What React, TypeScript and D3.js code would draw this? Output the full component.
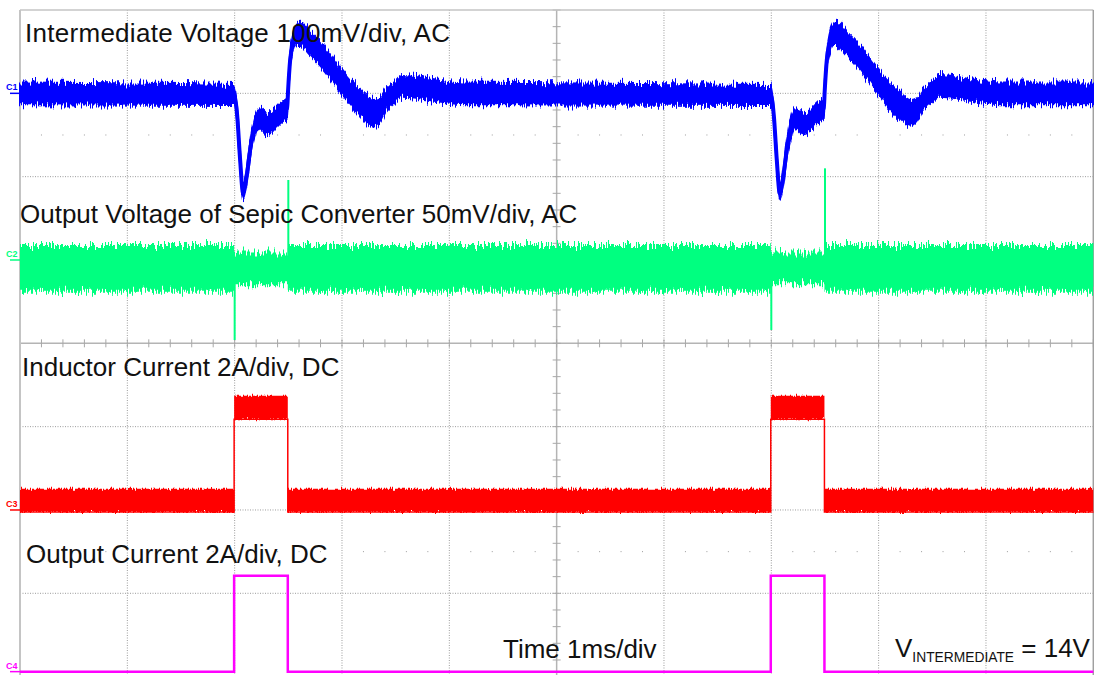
import React from 'react';
import * as d3 from 'd3';

// scope screen: 10 x 8 divisions, 1 ms/div
const DIVS_X = 10;
const DIVS_Y = 8;
const TIME_MS = [0, 10];

// load-step events (ms) and pulse length
const eventStarts = [1.995, 6.995];
const pulseWidth = 0.5;

// C1 intermediate voltage, AC, 100 mV/div - transient shape after each step
const ch1ProfileT = [0, 0.028, 0.056, 0.084, 0.112, 0.149, 0.186, 0.224, 0.261, 0.298, 0.335, 0.391, 0.447, 0.494, 0.503, 0.522, 0.55, 0.587, 0.615, 0.699, 0.839, 0.978, 1.118, 1.23, 1.295, 1.36, 1.416, 1.491, 1.565, 1.677, 1.863, 2.143];
const ch1ProfileMv = [-2, -26, -80, -120, -104, -68, -42, -30, -32, -36, -36, -29, -22, -18, 4, 40, 61, 71, 72, 61, 42, 18, -4, -18, -24, -20, -8, 1, 9, 8, 4, 0];
const ch1ProfileHw = [12, 7, 7, 7, 8, 9, 11, 12, 13, 13, 12, 12, 12, 12, 8, 8, 11, 13, 14, 14, 14, 14, 15, 16, 16, 14, 12, 12, 13, 13, 13, 13];
const ch1BaseHw = 13;

// C2 SEPIC output voltage, AC, 50 mV/div
const ch2Level = { idle: -5, idleHw: 14, pulse: -5, pulseHw: 9.5 };
const ch2SpikeT = [2.0, 2.5, 7.0, 7.5];
const ch2SpikeMv = [-48, 48, -42, 55];

// C3 inductor current, DC, 2 A/div
const ch3Low = 0.23;
const ch3High = 2.46;
const ch3Hw = 0.28;

// C4 output current, DC, 2 A/div
const ch4Low = 0.0;
const ch4High = 2.3;

const channels = [
  { name: 'C1', color: '#0000ff', offset: 3, perDiv: 100 },
  { name: 'C2', color: '#00ff80', offset: 1, perDiv: 50 },
  { name: 'C3', color: '#ff0000', offset: -2, perDiv: 2 },
  { name: 'C4', color: '#ff00ff', offset: -3.94, perDiv: 2 },
];

const labels = [
  'Intermediate Voltage 100mV/div, AC',
  'Output Voltage of Sepic Converter 50mV/div, AC',
  'Inductor Current 2A/div, DC',
  'Output Current 2A/div, DC',
];

type P = { t: number; v: number; hw: number };

const W = 1094;
const H = 675;
const left = 20;
const top = 10;
const divW = 107.33;
const divH = 83.33;

// trace fuzz (pure styling of the filled envelopes)
const NoiseFilter = ({ id, scale, seed }: { id: string; scale: number; seed: number }) => (
  <filter id={id} x="-2%" y="-40%" width="104%" height="180%">
    <feTurbulence type="fractalNoise" baseFrequency="0.8 0.03" numOctaves={2} seed={seed} result="t" />
    <feColorMatrix in="t" type="matrix" values="0 0 0 0 0.5  0 1 0 0 0  0 0 1 0 0  0 0 0 0 1" result="m" />
    <feDisplacementMap in="SourceGraphic" in2="m" scale={scale} xChannelSelector="R" yChannelSelector="G" />
  </filter>
);

export default function App() {
  const x = d3.scaleLinear().domain(TIME_MS).range([left, left + DIVS_X * divW]);
  const yDiv = d3.scaleLinear().domain([-DIVS_Y / 2, DIVS_Y / 2]).range([top + DIVS_Y * divH, top]);
  const yc = (c: number, v: number) => yDiv(channels[c].offset + v / channels[c].perDiv);

  // build series
  const ch1: P[] = [{ t: TIME_MS[0], v: 0, hw: ch1BaseHw }];
  eventStarts.forEach(s => {
    ch1ProfileT.forEach((t, i) => ch1.push({ t: s + t, v: ch1ProfileMv[i], hw: ch1ProfileHw[i] }));
  });
  ch1.push({ t: TIME_MS[1], v: 0, hw: ch1BaseHw });

  const ch2: P[] = [{ t: TIME_MS[0], v: ch2Level.idle, hw: ch2Level.idleHw }];
  eventStarts.forEach(s => {
    ch2.push({ t: s, v: ch2Level.idle, hw: ch2Level.idleHw });
    ch2.push({ t: s, v: ch2Level.pulse, hw: ch2Level.pulseHw });
    ch2.push({ t: s + pulseWidth, v: ch2Level.pulse, hw: ch2Level.pulseHw });
    ch2.push({ t: s + pulseWidth, v: ch2Level.idle, hw: ch2Level.idleHw });
  });
  ch2.push({ t: TIME_MS[1], v: ch2Level.idle, hw: ch2Level.idleHw });

  const step = (lo: number, hi: number, hw: number): P[] => {
    const pts: P[] = [{ t: TIME_MS[0], v: lo, hw }];
    eventStarts.forEach(s => {
      pts.push({ t: s, v: lo, hw }, { t: s, v: hi, hw }, { t: s + pulseWidth, v: hi, hw }, { t: s + pulseWidth, v: lo, hw });
    });
    pts.push({ t: TIME_MS[1], v: lo, hw });
    return pts;
  };
  const ch3 = step(ch3Low, ch3High, ch3Hw);
  const ch4 = step(ch4Low, ch4High, 0);

  const band = (c: number, curve: d3.CurveFactory) =>
    d3.area<P>().x(d => x(d.t)).y0(d => yc(c, d.v - d.hw)).y1(d => yc(c, d.v + d.hw)).curve(curve);
  const line = (c: number) => d3.line<P>().x(d => x(d.t)).y(d => yc(c, d.v));
  const lowEdge = (c: number) => d3.line<P>().x(d => x(d.t)).y(d => yc(c, d.v - d.hw));

  const gridCol = '#9c9c9c';
  const xMid = x(5);
  const yMid = yDiv(0);
  const minorX = d3.range(0, DIVS_X + 0.001, 0.2);
  const minorY = d3.range(-DIVS_Y / 2, DIVS_Y / 2 + 0.001, 0.2);

  return (
    <svg width={W} height={H} style={{ position: 'absolute', left: 0, top: 0, background: '#fff' }}
      fontFamily="'Liberation Sans', Arial, sans-serif">
      <defs>
        <NoiseFilter id="nBlue" scale={15} seed={4} />
        <NoiseFilter id="nGreen" scale={20} seed={7} />
        <NoiseFilter id="nRed" scale={6} seed={2} />
      </defs>
      <rect width={W} height={H} fill="#fff" />

      {/* grid */}
      {d3.range(1, DIVS_X).filter(i => i !== 5).map(i => (
        <line key={'gx' + i} x1={x(i)} x2={x(i)} y1={top} y2={H} stroke={gridCol} strokeDasharray="1 1.5" />
      ))}
      {d3.range(-3, 4).filter(j => j !== 0).map(j => (
        <line key={'gy' + j} x1={left} x2={x(10)} y1={yDiv(j)} y2={yDiv(j)} stroke={gridCol} strokeDasharray="1 1.5" />
      ))}
      {[2.5, -2.5].map(j => minorX.filter(v => Math.abs(v - Math.round(v)) > 0.01).map(v => (
        <line key={'hd' + j + v} x1={x(v) - 0.5} x2={x(v) + 0.5} y1={yDiv(j)} y2={yDiv(j)} stroke={gridCol} />
      )))}
      <line x1={left} x2={x(10)} y1={yMid} y2={yMid} stroke="#b4b4b4" strokeWidth={1.5} />
      <line x1={xMid} x2={xMid} y1={top} y2={H} stroke="#b4b4b4" strokeWidth={1.5} />
      {minorX.map(v => (
        <line key={'tx' + v} x1={x(v)} x2={x(v)} y1={yMid - 4} y2={yMid + 4} stroke="#a8a8a8" />
      ))}
      {minorY.map(v => (
        <line key={'ty' + v} x1={xMid - 4} x2={xMid + 4} y1={yDiv(v)} y2={yDiv(v)} stroke="#a8a8a8" />
      ))}
      <line x1={left} x2={left} y1={top} y2={H} stroke="#c4c4c4" strokeWidth={2} />
      <line x1={left} x2={x(10)} y1={top} y2={top} stroke="#c4c4c4" strokeWidth={1.5} />
      <line x1={x(10)} x2={x(10)} y1={top} y2={H} stroke="#a0a0a0" strokeWidth={1.5} />

      {/* C1 */}
      <g filter="url(#nBlue)">
        <path d={band(0, d3.curveMonotoneX)(ch1) || ''} fill={channels[0].color} stroke={channels[0].color} strokeWidth={2} />
      </g>
      <path d={line(0).curve(d3.curveMonotoneX)(ch1) || ''} fill="none" stroke={channels[0].color} strokeWidth={4} />

      {/* C2 */}
      <g filter="url(#nGreen)">
        <path d={band(1, d3.curveLinear)(ch2) || ''} fill={channels[1].color} />
      </g>
      {ch2SpikeT.map((t, i) => (
        <line key={'sp' + i} x1={x(t)} x2={x(t)} y1={yc(1, ch2Level.idle)} y2={yc(1, ch2SpikeMv[i])}
          stroke={channels[1].color} strokeWidth={2} />
      ))}

      {/* C3 */}
      <g filter="url(#nRed)">
        <path d={band(2, d3.curveLinear)(ch3) || ''} fill={channels[2].color} />
      </g>
      <path d={lowEdge(2)(ch3) || ''} fill="none" stroke={channels[2].color} strokeWidth={1.5} />

      {/* C4 */}
      <path d={line(3)(ch4) || ''} fill="none" stroke={channels[3].color} strokeWidth={2.5} />

      {/* channel markers */}
      {channels.map((c, i) => (
        <g key={c.name}>
          <text x={6} y={yc(i, 0) - 3} fontSize={9} fontWeight="bold" fill={c.color}>{c.name}</text>
          <line x1={10} x2={left} y1={yc(i, 0)} y2={yc(i, 0)} stroke={c.color} strokeWidth={1.5} />
        </g>
      ))}

      {/* labels */}
      <g fontSize={26} fill="#111">
        <text x={25} y={42} textLength={425} lengthAdjust="spacing">{labels[0]}</text>
        <text x={20} y={223}>{labels[1]}</text>
        <text x={22} y={376}>{labels[2]}</text>
        <text x={26} y={563}>{labels[3]}</text>
        <text x={503} y={658}>Time 1ms/div</text>
        <text x={895} y={657}>
          V<tspan fontSize={13.8} dy={5}>INTERMEDIATE</tspan><tspan dy={-5}> = 14V</tspan>
        </text>
      </g>
    </svg>
  );
}
